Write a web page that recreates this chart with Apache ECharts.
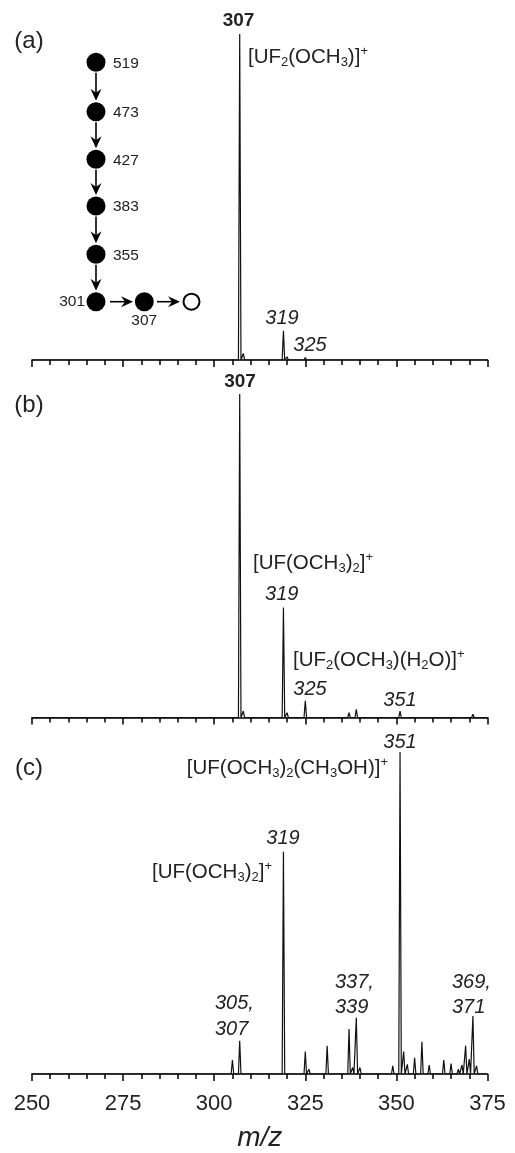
<!DOCTYPE html>
<html><head><meta charset="utf-8">
<script src="https://cdn.jsdelivr.net/npm/echarts@6/dist/echarts.min.js"></script>
<style>html,body{margin:0;padding:0;background:#fff}#c{width:515px;height:1153px}</style>
</head><body><div id="c"></div>
<script>
// ---- data (m/z, relative intensity %) ----
const xTickLabels = [250, 275, 300, 325, 350, 375];
const mzA  = [307, 308, 319, 320, 325, 339, 351];
const intA = [100, 2.0, 9.0, 1.0, 0.8, 0.5, 0.5];
const mzB  = [307, 308, 319, 320, 325, 328, 337, 339, 351, 371];
const intB = [100, 2.0, 34, 1.5, 5.2, 0.5, 1.5, 2.5, 2.0, 1.0];
const mzC  = [287, 305, 307, 319, 325, 326, 331, 337, 338, 339, 340, 349, 351, 352, 353, 355, 357, 359, 363, 365, 367, 368, 369, 370, 371, 372];
const intC = [0.3, 4.3, 10.3, 69, 7.0, 1.5, 8.8, 14, 2.0, 17.5, 2.0, 2.5, 100, 7.0, 3.0, 5.0, 10, 2.8, 4.3, 3.2, 1.5, 2.8, 8.8, 4.6, 18, 2.5];
const pathwayMz = ['519', '473', '427', '383', '355', '301', '307'];

// stick-spectrum profile: each peak drawn as a narrow line from the baseline
function profile(mz, inten) {
  const d = [[250, 0]];
  mz.forEach((m, i) => { d.push([m - 0.35, 0], [m, inten[i]], [m + 0.35, 0]); });
  d.push([375, 0]);
  return d;
}

const FONT = '"Liberation Sans", Arial, sans-serif';
const TXT = '#222';
const grids = [
  {left: 32, width: 455.5, top: 34, height: 326},
  {left: 32, width: 455.5, top: 394, height: 323.5},
  {left: 32, width: 455.5, top: 752, height: 325.5}
];
function xAxis(i) {
  return {
    gridIndex: i, type: 'value', min: 250, max: 375, interval: 25,
    axisLine: {show: true, onZero: false, lineStyle: {color: '#000', width: 1.6}},
    axisTick: {show: true, length: 7, lineStyle: {color: '#000', width: 1.5}},
    minorTick: {show: true, splitNumber: 5, length: 5, lineStyle: {color: '#000', width: 1.5}},
    splitLine: {show: false}, minorSplitLine: {show: false},
    axisLabel: {show: i === 2, fontSize: 22, color: TXT, fontFamily: FONT, margin: 19,
      formatter: v => xTickLabels.includes(v) ? String(v) : ''},
    name: i === 2 ? 'm/z' : '', nameLocation: 'middle', nameGap: 50,
    nameTextStyle: {fontSize: 28, fontStyle: 'italic', color: TXT, fontFamily: FONT}
  };
}
function yAxis(i) { return {gridIndex: i, type: 'value', min: 0, max: 100, show: false}; }
function series(i, mz, inten) {
  return {type: 'line', xAxisIndex: i, yAxisIndex: i, data: profile(mz, inten),
    showSymbol: false, symbol: 'none', silent: true,
    lineStyle: {color: '#111', width: 1.2}};
}

// ---- annotations ----
const rich = {
  n: {fontSize: 20.5, fontFamily: FONT, color: TXT, lineHeight: 24, verticalAlign: 'middle'},
  s: {fontSize: 13, fontFamily: FONT, color: TXT, lineHeight: 12, verticalAlign: 'bottom'},
  p: {fontSize: 13, fontFamily: FONT, color: TXT, lineHeight: 12, verticalAlign: 'top'}
};
function formula(str, x, y, align) {
  return {type: 'text', x: x, y: y, silent: true,
    style: {text: str, rich: rich, align: align || 'left', verticalAlign: 'middle', fill: TXT}};
}
function txt(str, x, y, opt) {
  opt = opt || {};
  return {type: 'text', x: x, y: y, silent: true,
    style: {text: str, fill: TXT, align: opt.align || 'center', verticalAlign: 'middle',
      font: (opt.style || 'normal') + ' ' + (opt.weight || 'normal') + ' ' + (opt.size || 20) + 'px ' + FONT}};
}
const ital = (s, x, y, align) => txt(s, x, y, {style: 'italic', size: 20, align: align || 'center'});

const g = [];
// panel letters
g.push(txt('(a)', 29, 41, {size: 24}));
g.push(txt('(b)', 29, 405, {size: 24}));
g.push(txt('(c)', 29, 768, {size: 24}));
// panel a
g.push(txt('307', 238.5, 21, {weight: 'bold', size: 19}));
g.push(formula('{n|[UF}{s|2}{n|(OCH}{s|3}{n|)]}{p|+}', 248, 57));
g.push(ital('319', 282, 318));
g.push(ital('325', 310, 345));
// panel b
g.push(txt('307', 240, 382, {weight: 'bold', size: 19}));
g.push(formula('{n|[UF(OCH}{s|3}{n|)}{s|2}{n|]}{p|+}', 253, 563));
g.push(ital('319', 281.7, 594));
g.push(formula('{n|[UF}{s|2}{n|(OCH}{s|3}{n|)(H}{s|2}{n|O)]}{p|+}', 293, 660));
g.push(ital('325', 310, 689));
g.push(ital('351', 400, 700));
// panel c
g.push(ital('351', 400, 742));
g.push(formula('{n|[UF(OCH}{s|3}{n|)}{s|2}{n|(CH}{s|3}{n|OH)]}{p|+}', 388, 768, 'right'));
g.push(ital('319', 283, 838));
g.push(formula('{n|[UF(OCH}{s|3}{n|)}{s|2}{n|]}{p|+}', 272, 872, 'right'));
g.push(ital('305,', 215, 1003, 'left'));
g.push(ital('307', 215, 1029, 'left'));
g.push(ital('337,', 335, 982, 'left'));
g.push(ital('339', 335, 1007, 'left'));
g.push(ital('369,', 452, 982, 'left'));
g.push(ital('371', 452, 1007, 'left'));

// fragmentation pathway diagram (panel a)
const cx = 96, cys = [62.3, 111.7, 159.3, 206, 254.3, 301.7], R = 9.5;
function arrowV(x, y1, y2) {
  g.push({type: 'line', silent: true, shape: {x1: x, y1: y1, x2: x, y2: y2 - 4}, style: {stroke: '#000', lineWidth: 1.6}});
  g.push({type: 'polygon', silent: true, shape: {points: [[x - 5.5, y2 - 12], [x, y2], [x + 5.5, y2 - 12], [x, y2 - 8]]}, style: {fill: '#000'}});
}
function arrowH(x1, x2, y) {
  g.push({type: 'line', silent: true, shape: {x1: x1, y1: y, x2: x2 - 4, y2: y}, style: {stroke: '#000', lineWidth: 1.6}});
  g.push({type: 'polygon', silent: true, shape: {points: [[x2 - 12, y - 5.5], [x2, y], [x2 - 12, y + 5.5], [x2 - 8, y]]}, style: {fill: '#000'}});
}
cys.forEach((cy, i) => {
  g.push({type: 'circle', silent: true, shape: {cx: cx, cy: cy, r: R}, style: {fill: '#000'}});
  if (i < 5) g.push(txt(pathwayMz[i], 113, cy + 1, {size: 15.5, align: 'left'}));
  if (i < cys.length - 1) arrowV(cx, cy + R + 1, cys[i + 1] - R - 1.5);
});
g.push(txt(pathwayMz[5], 85, 302, {size: 15.5, align: 'right'}));
arrowH(110, 133, 301.7);
g.push({type: 'circle', silent: true, shape: {cx: 144.3, cy: 301.7, r: R}, style: {fill: '#000'}});
g.push(txt(pathwayMz[6], 144.3, 321, {size: 15.5}));
arrowH(157, 180, 301.7);
g.push({type: 'circle', silent: true, shape: {cx: 191.5, cy: 301.7, r: 8}, style: {fill: '#fff', stroke: '#000', lineWidth: 2}});

const chart = echarts.init(document.getElementById('c'), null, {renderer: 'canvas'});
chart.setOption({
  animation: false,
  backgroundColor: '#fff',
  grid: grids,
  xAxis: [xAxis(0), xAxis(1), xAxis(2)],
  yAxis: [yAxis(0), yAxis(1), yAxis(2)],
  series: [series(0, mzA, intA), series(1, mzB, intB), series(2, mzC, intC)],
  graphic: g
});
</script></body></html>
